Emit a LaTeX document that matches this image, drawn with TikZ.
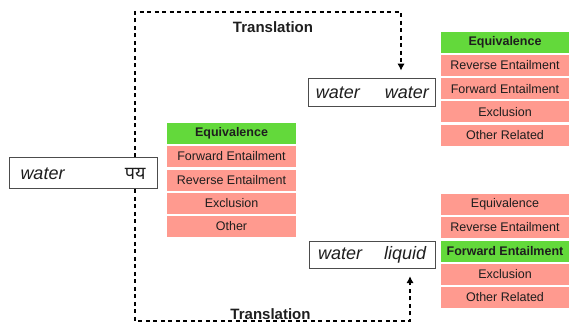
\documentclass[tikz,border=0pt]{standalone}
\usepackage{fontspec}
\setmainfont{Liberation Sans}
\newfontfamily\deva[Script=Devanagari]{Noto Sans}
\usetikzlibrary{arrows.meta}
\definecolor{eqgreen}{HTML}{63D93B}
\definecolor{relpink}{HTML}{FF9A8F}
\definecolor{txt}{HTML}{1E1E1E}
\tikzset{
  rowbox/.style={fill=relpink, inner sep=0pt, minimum height=21pt, text=txt,
    font=\fontsize{12.5}{14}\selectfont},
  hitbox/.style={rowbox, fill=eqgreen, font=\fontsize{12.5}{14}\selectfont\bfseries},
  pairbox/.style={draw=black!70, line width=0.9pt, inner sep=0pt, text=txt,
    font=\fontsize{18}{20}\selectfont\itshape},
  conn/.style={draw=black, line width=1.8pt, dash pattern=on 4pt off 3.5pt},
  tip/.style={-{Latex[length=7pt,width=7.5pt]}},
  translbl/.style={font=\fontsize{15}{17}\selectfont\bfseries, text=txt, inner sep=0pt}
}
\begin{document}
\begin{tikzpicture}[x=1pt,y=-1pt]
\useasboundingbox (0,0) rectangle (569,324);
% word pair boxes
\node[pairbox, minimum width=148pt, minimum height=31pt] (lw) at (83,173.3)
  {\makebox[125pt]{water\hfill{\deva\upshape पय}}};
\node[pairbox, minimum width=127pt, minimum height=27.5pt] (tw) at (372.3,92.3)
  {\makebox[113pt]{water\hfill water}};
\node[pairbox, minimum width=126pt, minimum height=27pt] (bw) at (372.2,255.2)
  {\makebox[108pt]{water\hfill liquid}};
% left list
\node[hitbox, minimum width=129pt] (l1) at (231.5,133.7) {Equivalence};
\node[rowbox, minimum width=129pt] (l2) at (231.5,156.3) {Forward Entailment};
\node[rowbox, minimum width=129pt] (l3) at (231.5,180.0) {Reverse Entailment};
\node[rowbox, minimum width=129pt] (l4) at (231.5,203.5) {Exclusion};
\node[rowbox, minimum width=129pt] (l5) at (231.5,226.4) {Other};
% top-right list
\node[hitbox, minimum width=128pt] (t1) at (505,42.5) {Equivalence};
\node[rowbox, minimum width=128pt] (t2) at (505,65.3) {Reverse Entailment};
\node[rowbox, minimum width=128pt] (t3) at (505,88.7) {Forward Entailment};
\node[rowbox, minimum width=128pt] (t4) at (505,111.7) {Exclusion};
\node[rowbox, minimum width=128pt] (t5) at (505,135.3) {Other Related};
% bottom-right list
\node[rowbox, minimum width=128pt] (b1) at (505,204.5) {Equivalence};
\node[rowbox, minimum width=128pt] (b2) at (505,227.3) {Reverse Entailment};
\node[hitbox, minimum width=128pt] (b3) at (505,251.2) {Forward Entailment};
\node[rowbox, minimum width=128pt] (b4) at (505,274.2) {Exclusion};
\node[rowbox, minimum width=128pt] (b5) at (505,297.2) {Other Related};
% connectors
\coordinate (ctl) at (135,12);
\coordinate (ctr) at (401,12);
\coordinate (cbl) at (135,321);
\coordinate (cbr) at (410,321);
\draw[conn, tip, shorten >=7.5pt] (lw.north -| ctl) -- (ctl) -- (ctr) -- (tw.north -| ctr);
\draw[conn, tip, shorten >=7pt] (lw.south -| cbl) -- (cbl) -- (cbr) -- (bw.south -| cbr);
\node[translbl] (tt) at (273,27) {Translation};
\node[translbl] (bt) at (270.5,314) {Translation};
\end{tikzpicture}
\end{document}
